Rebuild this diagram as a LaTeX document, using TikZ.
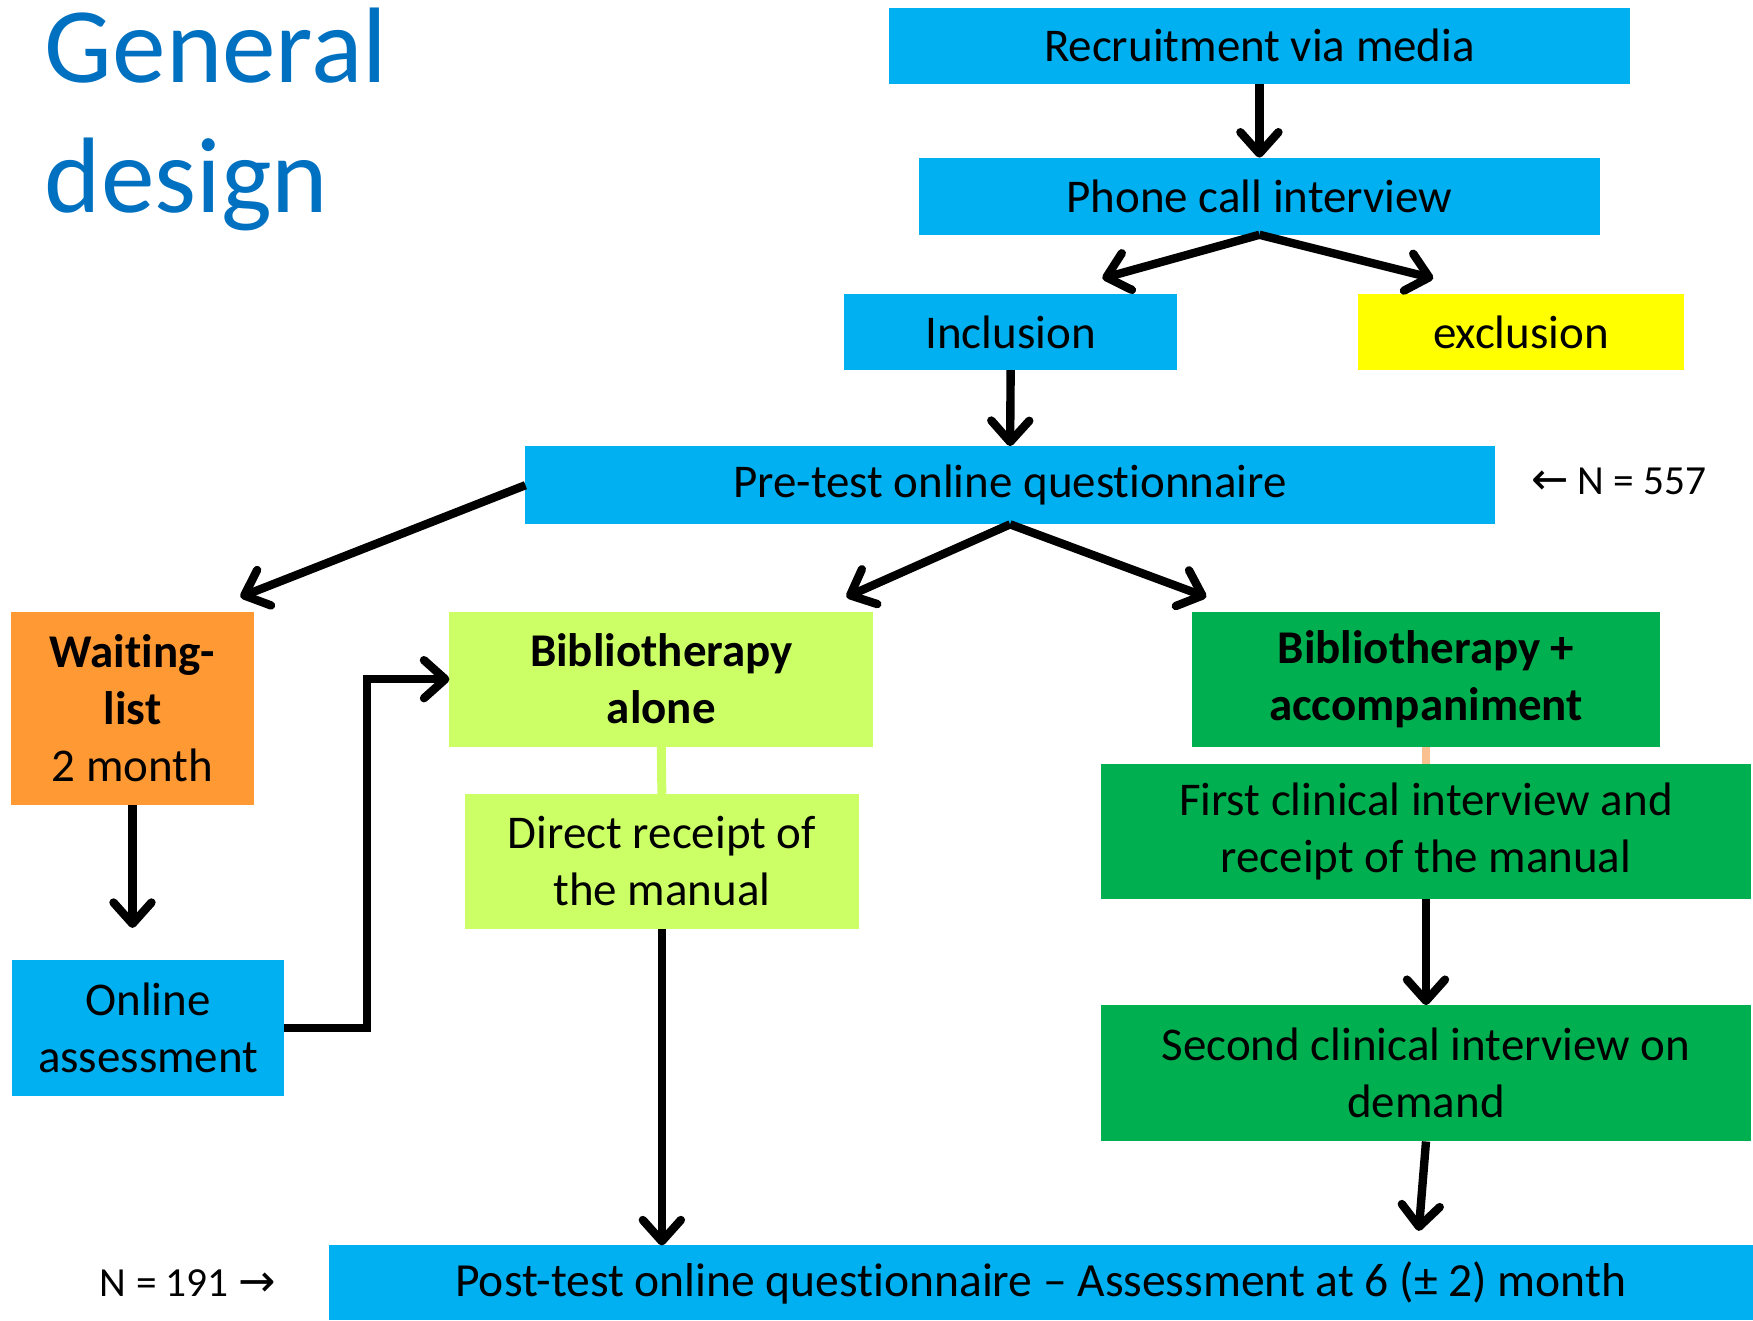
\documentclass[tikz,border=0pt]{standalone}
\usepackage{fontspec}
\setmainfont{Carlito}[Ligatures={TeX,NoCommon}]
\newfontfamily\symfont{DejaVu Sans}
\usetikzlibrary{arrows.meta}
\definecolor{boxblue}{HTML}{00B0F0}
\definecolor{boxyellow}{HTML}{FFFF00}
\definecolor{boxorange}{HTML}{FF9933}
\definecolor{boxlime}{HTML}{CCFF66}
\definecolor{boxgreen}{HTML}{00B050}
\definecolor{titleblue}{HTML}{0070C0}
\definecolor{peach}{HTML}{FAC090}
\tikzset{
  box/.style={rectangle, inner sep=0pt, outer sep=0pt, align=center, text=black,
    font=\fontsize{42}{51}\selectfont},
  arr/.style={black, line width=7.5pt, line join=miter,
    -{Straight Barb[length=19pt,width=34pt,round]}},
  note/.style={inner sep=0pt, text=black, font=\fontsize{37}{44}\selectfont},
  link/.style={line width=8pt},
}
\begin{document}
\begin{tikzpicture}[x=1pt,y=-1pt]
\useasboundingbox (0,0) rectangle (1568,1181);
\fill[white] (0,0) rectangle (1568,1181);

\node[anchor=base west, inner sep=0pt, align=left, text=titleblue,
  font=\fontsize{96}{116}\selectfont] (title) at (40,190) {General\\design};

\node[box, fill=boxblue, minimum width=663pt, minimum height=68pt] (recr) at (1126.5,41) {Recruitment via media};
\node[box, fill=boxblue, minimum width=609pt, minimum height=69pt] (phone) at (1126.5,175.5) {Phone call interview};
\node[box, fill=boxblue, minimum width=298pt, minimum height=68pt] (incl) at (904,297) {Inclusion};
\node[box, fill=boxyellow, minimum width=291pt, minimum height=68pt] (excl) at (1360.5,297) {exclusion};
\node[box, fill=boxblue, minimum width=867pt, minimum height=70pt] (pre) at (903.5,434) {Pre-test online questionnaire};
\node[note] (n557) at (1448,431) {{\symfont\fontsize{40}{44}\selectfont ←} N = 557};

\node[box, fill=boxorange, minimum width=217pt, minimum height=173pt] (wait) at (118.5,633.5) {\textbf{Waiting-}\\\textbf{list}\\2 month};
\node[box, fill=boxlime, minimum width=379pt, minimum height=121pt] (balone) at (591.5,607.5) {\textbf{Bibliotherapy}\\\textbf{alone}};
\node[box, fill=boxlime, minimum width=352pt, minimum height=121pt] (direct) at (592,770.5) {Direct receipt of\\the manual};
\node[box, fill=boxgreen, minimum width=419pt, minimum height=121pt] (bacc) at (1275.5,607.5) {\textbf{Bibliotherapy +}\\\textbf{accompaniment}};
\node[box, fill=boxgreen, minimum width=581pt, minimum height=121pt] (first) at (1275.5,743.5) {First clinical interview and\\receipt of the manual};
\node[box, fill=boxgreen, minimum width=581pt, minimum height=122pt] (second) at (1275.5,960) {Second clinical interview on\\demand};
\node[box, fill=boxblue, minimum width=243pt, minimum height=121pt] (online) at (132.5,919.5) {Online\\assessment};
\node[box, fill=boxblue, minimum width=1274pt, minimum height=67pt, font=\fontsize{42.5}{51}\selectfont] (post) at (931,1147.5) {Post-test online questionnaire – Assessment at 6 (± 2) month};
\node[note] (n191) at (168,1148) {N = 191 {\symfont\fontsize{40}{44}\selectfont →}};

\draw[boxlime, link] (balone.south) -- (direct.north);
\draw[peach, link] (bacc.south) -- (first.north);

\coordinate (p1) at (986,249);
\coordinate (p2) at (1282,249);
\coordinate (p3) at (215,534);
\coordinate (p4) at (757,534);
\coordinate (p5) at (1079,534);
\coordinate (p6) at (118.5,830);
\coordinate (p7) at (1269,1101);

\draw[arr] (recr.south) -- (phone.north);
\draw[arr] (phone.south) -- (p1);
\draw[arr] (phone.south) -- (p2);
\draw[arr] (incl.south) -- (pre.north);
\draw[arr] (pre.west) -- (p3);
\draw[arr] (pre.south) -- (p4);
\draw[arr] (pre.south) -- (p5);
\draw[arr] (wait.south) -- (p6);
\draw[arr] (online.east) -- ++(74,0) |- (balone.west);
\draw[arr] (direct.south) -- (direct.south |- post.north);
\draw[arr] (first.south) -- (second.north);
\draw[arr] (second.south) -- (p7);
\end{tikzpicture}
\end{document}
